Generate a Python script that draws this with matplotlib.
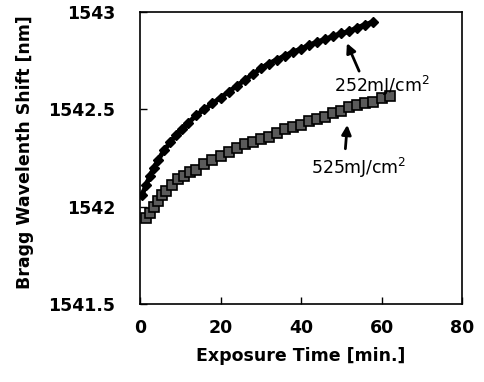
import matplotlib
matplotlib.use("Agg")
import matplotlib.pyplot as plt

# 252 mJ/cm^2 series (diamonds)
t_252 = [0.5, 1.5, 2.5, 3.5, 4.5, 6, 7.5, 9, 10.5, 12, 14, 16, 18, 20, 22, 24, 26, 28,
         30, 32, 34, 36, 38, 40, 42, 44, 46, 48, 50, 52, 54, 56, 58]
shift_252 = [1542.06, 1542.11, 1542.16, 1542.20, 1542.24, 1542.29, 1542.33, 1542.37,
             1542.40, 1542.43, 1542.47, 1542.50, 1542.53, 1542.56, 1542.59, 1542.62,
             1542.65, 1542.68, 1542.71, 1542.735, 1542.755, 1542.775, 1542.795, 1542.81,
             1542.83, 1542.845, 1542.86, 1542.875, 1542.89, 1542.90, 1542.92, 1542.935,
             1542.95]

# 525 mJ/cm^2 series (squares)
t_525 = [1.5, 2.5, 3.5, 4.5, 5.5, 6.5, 8, 9.5, 11, 12.5, 14, 16, 18, 20, 22, 24, 26, 28,
         30, 32, 34, 36, 38, 40, 42, 44, 46, 48, 50, 52, 54, 56, 58, 60, 62]
shift_525 = [1541.94, 1541.97, 1542.00, 1542.03, 1542.06, 1542.08, 1542.11, 1542.14,
             1542.16, 1542.18, 1542.19, 1542.22, 1542.24, 1542.26, 1542.28, 1542.30,
             1542.32, 1542.33, 1542.35, 1542.36, 1542.38, 1542.40, 1542.41, 1542.42,
             1542.44, 1542.45, 1542.46, 1542.48, 1542.49, 1542.51, 1542.52, 1542.53,
             1542.54, 1542.56, 1542.57]

x_ticks = [0, 20, 40, 60, 80]
y_ticks = [1541.5, 1542, 1542.5, 1543]
y_tick_labels = ["1541.5", "1542", "1542.5", "1543"]

plt.rcParams['font.family'] = ['DejaVu Sans']

fig = plt.figure(figsize=(4.85, 3.82), dpi=100)
ax = fig.add_axes([0.2887, 0.2042, 0.6639, 0.7644])

ax.plot(t_252, shift_252, linestyle='-', color='black', linewidth=3.5,
        marker='D', markersize=5.5, markerfacecolor='black', markeredgecolor='black')
ax.plot(t_525, shift_525, linestyle='-', color='black', linewidth=3.5,
        marker='s', markersize=7.5, markerfacecolor='#5a5a5a', markeredgecolor='black',
        markeredgewidth=1.2)

ax.set_xlim(0, 80)
ax.set_ylim(1541.5, 1543)
ax.set_xticks(x_ticks)
ax.set_yticks(y_ticks)
ax.set_yticklabels(y_tick_labels)
ax.tick_params(direction='in', length=5, width=1, labelsize=12.5)
ax.tick_params(axis='x', pad=11)
ax.tick_params(axis='y', pad=18)
for lbl in ax.get_xticklabels() + ax.get_yticklabels():
    lbl.set_fontweight('bold')
for s in ax.spines.values():
    s.set_linewidth(1.2)

ax.set_xlabel('Exposure Time [min.]', fontsize=12.5, fontweight='bold', labelpad=7)
ax.set_ylabel('Bragg Wavelenth Shift [nm]', fontsize=12.5, fontweight='bold')
ax.yaxis.set_label_coords(-0.33, 0.52)

ax.annotate('252mJ/cm$^2$', xy=(51.4, 1542.84), xytext=(48.3, 1542.62),
            fontsize=12.5, ha='left', va='center',
            arrowprops=dict(arrowstyle='-|>', color='black', lw=2, mutation_scale=14,
                            shrinkA=0, shrinkB=0,
                            relpos=(0.27, 1.0)))
ax.annotate('525mJ/cm$^2$', xy=(51.5, 1542.42), xytext=(42.6, 1542.20),
            fontsize=12.5, ha='left', va='center',
            arrowprops=dict(arrowstyle='-|>', color='black', lw=2, mutation_scale=14,
                            shrinkA=3, shrinkB=0,
                            relpos=(0.35, 1.0)))

fig.savefig('out.png', dpi=100)
